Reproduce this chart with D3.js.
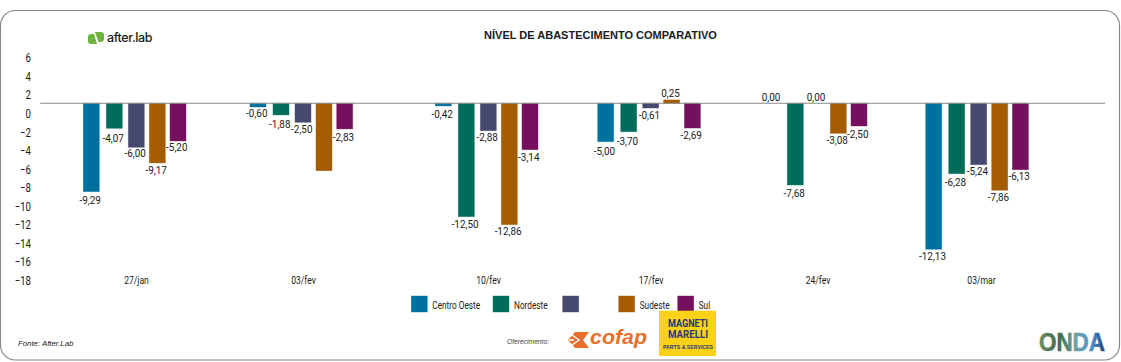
<!DOCTYPE html>
<html>
<head>
<meta charset="utf-8">
<script src="https://cdn.jsdelivr.net/npm/d3@7"></script>
<style>
  html, body { margin: 0; padding: 0; background: #fff; }
  svg { display: block; }
  text { font-family: Roboto, sans-serif; fill: #1a1a1a; }
  .axis path, .axis line { display: none; }
  .axis text { font-family: Roboto, sans-serif; }
</style>
</head>
<body>
<script>
var dates = ["27/jan", "03/fev", "10/fev", "17/fev", "24/fev", "03/mar"];
var series = ["Centro Oeste", "Nordeste", "", "Sudeste", "Sul"];
var colors = ["#00709f", "#006d5b", "#45496d", "#a65c00", "#75105f"];
var yTicks = [6, 4, 2, 0, -2, -4, -6, -8, -10, -12, -14, -16, -18];

// bar lengths as drawn, they don't always agree with the printed labels
var centroOeste = [-9.54, -0.40, -0.29, -4.15, 0, -15.76];
var nordeste = [-2.70, -1.26, -12.24, -3.07, -8.82, -7.60];
var semNome = [-4.75, -2.05, -2.96, -0.51, 0, -6.63];
var sudeste = [-6.44, -7.28, -13.10, 0.36, -3.24, -9.39];
var sul = [-4.07, -2.77, -5.01, -2.67, -2.45, -7.17];
var values = [centroOeste, nordeste, semNome, sudeste, sul];

var labelsCentroOeste = ["-9,29", "-0,60", "-0,42", "-5,00", "0,00", "-12,13"];
var labelsNordeste = ["-4,07", "-1,88", "-12,50", "-3,70", "-7,68", "-6,28"];
var labelsSemNome = ["-6,00", "-2,50", "-2,88", "-0,61", "0,00", "-5,24"];
var labelsSudeste = ["-9,17", "", "-12,86", "0,25", "-3,08", "-7,86"];
var labelsSul = ["-5,20", "-2,83", "-3,14", "-2,69", "-2,50", "-6,13"];
var labels = [labelsCentroOeste, labelsNordeste, labelsSemNome, labelsSudeste, labelsSul];

// the labels were placed by hand in the original, gap from bar end to label centre
var labelGap = [
  [8.6, 6.3, 7.7, 9, 6, 7],
  [9.4, 9, 7.6, 9, 8.3, 8],
  [6, 7.3, 6, 6.7, 6, 6],
  [7.3, 0, 6.6, 6.7, 7, 7],
  [6.3, 8.7, 7, 6.7, 8.3, 6.6]
];

var width = 1121, height = 362;

// no narrow font here, so squeeze the glyphs to the width of the original
function condense(sel, k) {
  sel.each(function() {
    this.setAttribute("textLength", this.getComputedTextLength() * k);
    this.setAttribute("lengthAdjust", "spacingAndGlyphs");
  });
}

var svg = d3.select("body").append("svg")
    .attr("width", width)
    .attr("height", height);

svg.append("rect")
    .attr("x", 0.5).attr("y", 10.5)
    .attr("width", 1119).attr("height", 349.5)
    .attr("rx", 15)
    .attr("fill", "#fff")
    .attr("stroke", "#8a8a8a")
    .attr("stroke-width", 1.2);

// the tick labels sit about one unit lower than the line the bars hang from
var y = d3.scaleLinear().domain([6, -18]).range([57.7, 280]);
var barY = d3.scaleLinear().domain([6, -18]).range([47.7, 270]);

var x = d3.scaleOrdinal().domain(dates).range([83.3, 250, 435.3, 597.7, 764.3, 925.7]);
var offset = d3.scaleOrdinal().domain(d3.range(5)).range([0, 23, 45, 66, 86.7]);
var dateLabelX = d3.scaleOrdinal().domain(dates).range([136, 303, 488, 650.5, 817.5, 981]);

svg.append("g")
    .attr("class", "axis")
    .attr("transform", "translate(36,0)")
    .call(d3.axisLeft(y).tickValues(yTicks).tickSize(0).tickPadding(5))
    .selectAll("text")
    .style("font-size", "12px")
    .attr("dy", "0.35em")
    .call(condense, 0.8);

svg.append("g")
    .attr("class", "axis")
    .attr("transform", "translate(0,280)")
    .call(d3.axisBottom(dateLabelX).tickSize(0).tickPadding(0))
    .selectAll("text")
    .style("font-size", "11px")
    .attr("y", 0)
    .attr("dy", "0.35em")
    .call(condense, 0.78);

var barWidth = 16;
var flat = [];
values.forEach(function(row, s) {
  row.forEach(function(v, i) {
    flat.push({s: s, date: dates[i], v: v, label: labels[s][i], gap: labelGap[s][i]});
  });
});

svg.selectAll(".bar")
    .data(flat.filter(function(d) { return d.v !== 0; }))
  .enter().append("rect")
    .attr("class", "bar")
    .attr("x", function(d) { return x(d.date) + offset(d.s); })
    .attr("y", function(d) { return Math.min(barY(d.v), barY(0)); })
    .attr("width", barWidth)
    .attr("height", function(d) { return Math.abs(barY(d.v) - barY(0)); })
    .attr("fill", function(d) { return colors[d.s]; })
    .attr("stroke", function(d) { return colors[d.s]; })
    .attr("stroke-opacity", 0.5)
    .attr("stroke-width", 0.8);

svg.append("line")
    .attr("x1", 40.3).attr("x2", 1105)
    .attr("y1", barY(0)).attr("y2", barY(0))
    .attr("stroke", "#8a8a8a")
    .attr("stroke-width", 1);

svg.selectAll(".value")
    .data(flat.filter(function(d) { return d.label !== ""; }))
  .enter().append("text")
    .attr("class", "value")
    .attr("x", function(d) { return x(d.date) + offset(d.s) + barWidth / 2 - 1.2; })
    .attr("y", function(d) { return d.v < 0 ? barY(d.v) + d.gap : barY(d.v) - d.gap; })
    .attr("dy", "0.35em")
    .style("text-anchor", "middle")
    .style("font-size", "11px")
    .text(function(d) { return d.label; })
    .call(condense, 0.9);

// legend
var legendX = d3.scaleOrdinal().domain(d3.range(5)).range([411.3, 493, 562.7, 618.7, 677.7]);
var legend = svg.selectAll(".legend")
    .data(series)
  .enter().append("g")
    .attr("class", "legend")
    .attr("transform", function(d, i) { return "translate(" + legendX(i) + ",296)"; });

legend.append("rect")
    .attr("width", 16)
    .attr("height", 16)
    .attr("fill", function(d, i) { return colors[i]; })
    .attr("stroke", function(d, i) { return colors[i]; })
    .attr("stroke-opacity", 0.5)
    .attr("stroke-width", 0.8);

legend.append("text")
    .attr("x", 21)
    .attr("y", 9)
    .attr("dy", ".35em")
    .style("font-size", "11px")
    .text(function(d) { return d; })
    .call(condense, 0.75);

svg.append("text")
    .attr("x", 600.5).attr("y", 39)
    .style("text-anchor", "middle")
    .style("font-family", "Liberation Sans")
    .style("font-weight", "bold")
    .style("font-size", "11px")
    .text("NÍVEL DE ABASTECIMENTO COMPARATIVO");

svg.append("text")
    .attr("x", 18).attr("y", 346)
    .style("font-family", "Liberation Sans")
    .style("font-style", "italic")
    .style("font-size", "7.8px")
    .text("Fonte: After.Lab");

svg.append("text")
    .attr("x", 507).attr("y", 344)
    .style("font-family", "Liberation Sans")
    .style("font-style", "italic")
    .style("font-size", "6.7px")
    .style("fill", "#444")
    .text("Oferecimento:");

// after.lab logo
var logo = svg.append("g");
logo.append("path")
    .attr("d", "M88 37 Q88 34 91 34 L94 34 L97 44 L91 44 Q88 44 88 41 Z")
    .attr("fill", "#6cb33f");
logo.append("path")
    .attr("d", "M95 32 L101 32 Q104 32 104 35 L104 39 Q104 42 100 42 L98.500 42 Z")
    .attr("fill", "#6cb33f");
logo.append("text")
    .attr("x", 107).attr("y", 42)
    .style("font-family", "Inter")
    .style("font-weight", 500)
    .style("font-size", "12.5px")
    .style("letter-spacing", "-0.4px")
    .text("after.lab");

// cofap logo
var cofap = svg.append("g");
cofap.append("path")
    .attr("d", "M568 340 L575 332 L589 332 L583 340 L589 348 L575 348 Z")
    .attr("fill", "#e8702a");
cofap.append("path")
    .attr("d", "M572 335 L579 340 L572 345 M574 340 L569 340")
    .attr("fill", "none")
    .attr("stroke", "#fff")
    .attr("stroke-width", 1.4);
cofap.append("text")
    .attr("x", 590).attr("y", 344)
    .attr("textLength", 57)
    .attr("lengthAdjust", "spacingAndGlyphs")
    .style("font-family", "Liberation Sans")
    .style("font-weight", "bold")
    .style("font-style", "italic")
    .style("font-size", "21px")
    .style("fill", "#e8702a")
    .text("cofap");

// magneti marelli logo
var mm = svg.append("g");
mm.append("rect")
    .attr("x", 659).attr("y", 310.7)
    .attr("width", 57).attr("height", 45.3)
    .attr("fill", "#fdd116");
mm.append("text")
    .attr("x", 688).attr("y", 326.5)
    .attr("textLength", 40)
    .attr("lengthAdjust", "spacingAndGlyphs")
    .style("text-anchor", "middle")
    .style("font-weight", "bold")
    .style("font-size", "10px")
    .style("fill", "#27367f")
    .text("MAGNETI");
mm.append("text")
    .attr("x", 688).attr("y", 337.5)
    .attr("textLength", 40)
    .attr("lengthAdjust", "spacingAndGlyphs")
    .style("text-anchor", "middle")
    .style("font-weight", "bold")
    .style("font-size", "10px")
    .style("fill", "#27367f")
    .text("MARELLI");
mm.append("text")
    .attr("x", 688).attr("y", 348.5)
    .attr("textLength", 50)
    .attr("lengthAdjust", "spacingAndGlyphs")
    .style("text-anchor", "middle")
    .style("font-family", "Liberation Sans")
    .style("font-weight", "bold")
    .style("font-size", "5.5px")
    .style("fill", "#27367f")
    .text("PARTS & SERVICES");

// onda logo
var defs = svg.append("defs");
var grad = defs.append("linearGradient")
    .attr("id", "ondaFill")
    .attr("gradientUnits", "userSpaceOnUse")
    .attr("x1", 1039).attr("x2", 1105)
    .attr("y1", 0).attr("y2", 0);
grad.append("stop").attr("offset", "0").attr("stop-color", "#6d8f62");
grad.append("stop").attr("offset", "0.3").attr("stop-color", "#3f6650");
grad.append("stop").attr("offset", "0.55").attr("stop-color", "#6fa3a8");
grad.append("stop").attr("offset", "0.8").attr("stop-color", "#4d8fd0");
grad.append("stop").attr("offset", "1").attr("stop-color", "#1f3f74");

svg.append("text")
    .attr("x", 1039).attr("y", 350.7)
    .attr("textLength", 66)
    .attr("lengthAdjust", "spacingAndGlyphs")
    .style("font-family", "Liberation Sans")
    .style("font-weight", "bold")
    .style("font-size", "26px")
    .style("fill", "url(#ondaFill)")
    .style("stroke", "url(#ondaFill)")
    .style("stroke-width", "0.6px")
    .text("ONDA");
</script>
</body>
</html>
